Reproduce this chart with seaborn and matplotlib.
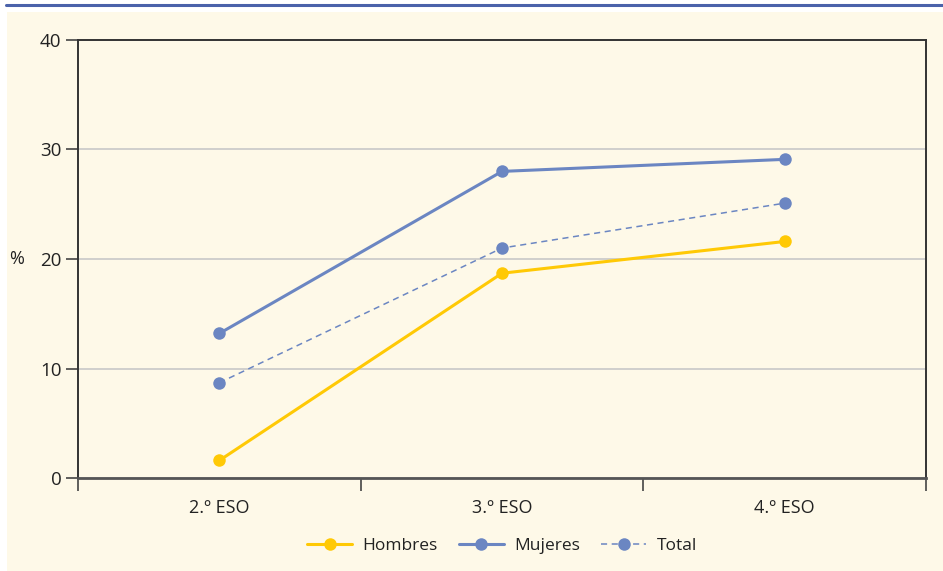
import numpy as np
import pandas as pd
import matplotlib
matplotlib.use("Agg")
import matplotlib.pyplot as plt
import seaborn as sns
from matplotlib.lines import Line2D
from matplotlib.patches import Rectangle

cursos = ["2.º ESO", "3.º ESO", "4.º ESO"]
hombres = [1.6, 18.7, 21.6]
mujeres = [13.2, 28.0, 29.1]
total = [8.7, 21.0, 25.1]
y_ticks = [0, 10, 20, 30, 40]

AMARILLO = "#FFC905"
AZUL = "#6B86C2"
CREMA = "#FEF9E8"

sns.set_theme(style="white")
plt.rcParams["font.family"] = ["Open Sans", "DejaVu Sans"]

df = pd.DataFrame({
    "curso": cursos * 3,
    "x": list(range(len(cursos))) * 3,
    "valor": hombres + mujeres + total,
    "serie": ["Hombres"] * 3 + ["Mujeres"] * 3 + ["Total"] * 3,
})

fig = plt.figure(figsize=(9.43, 5.71), dpi=100, facecolor="white")
# fondo crema y filete azul superior
fig.patches.append(Rectangle((7 / 943, 0), 1, 1 - 12 / 571, transform=fig.transFigure,
                             facecolor=CREMA, edgecolor="none", zorder=-10))
fig.lines.append(Line2D([6 / 943, 1], [1 - 5 / 571] * 2, transform=fig.transFigure,
                        color="#4B62AA", linewidth=2.2))

ax = fig.add_axes([78 / 943, 93 / 571, 848 / 943, 438 / 571])
ax.set_facecolor(CREMA)

estilos = {
    "Hombres": dict(color=AMARILLO, linewidth=2.2, linestyle="-"),
    "Mujeres": dict(color=AZUL, linewidth=2.2, linestyle="-"),
    "Total": dict(color=AZUL, linewidth=1.1, linestyle=(0, (4, 3))),
}
for serie, st in estilos.items():
    sub = df[df["serie"] == serie]
    sns.lineplot(data=sub, x="x", y="valor", ax=ax, marker="o", markersize=9,
                 markeredgewidth=0, label=serie, **st)

ax.set_xlim(-0.5, 2.5)
ax.set_ylim(0, 40)
ax.set_yticks(y_ticks)
ax.set_yticklabels([str(v) for v in y_ticks])
ax.set_xticks(range(len(cursos)))
ax.set_xticklabels(cursos)
ax.set_xticks([-0.5, 0.5, 1.5, 2.5], minor=True)
ax.tick_params(axis="x", which="major", bottom=True, length=0, pad=15,
               labelsize=13, colors="#222222")
ax.tick_params(axis="x", which="minor", bottom=True, length=9, width=1.2,
               direction="out", color="#444444")
ax.tick_params(axis="y", left=True, length=9, width=1.2, direction="out", color="#444444",
               labelsize=13.5, labelcolor="#222222", pad=3)
ax.grid(axis="y", color="#C8C8C8", linewidth=1.2)
ax.set_axisbelow(True)
for s in ax.spines.values():
    s.set_color("#333333")
    s.set_linewidth(1.4)
ax.spines["bottom"].set_color("#555555")
ax.spines["bottom"].set_linewidth(2)

ax.set_xlabel("")
ax.set_ylabel("%", rotation=0, fontsize=13, color="#222222", va="center")
ax.yaxis.set_label_coords(-0.073, 0.5)

leg = ax.legend(loc="upper center", bbox_to_anchor=(0.5, -0.1), ncol=3, frameon=False,
                fontsize=12.5, handlelength=2.6, columnspacing=1.2, handletextpad=0.6)
for t in leg.get_texts():
    t.set_color("#222222")

fig.savefig("out.png", dpi=100, facecolor="white")
